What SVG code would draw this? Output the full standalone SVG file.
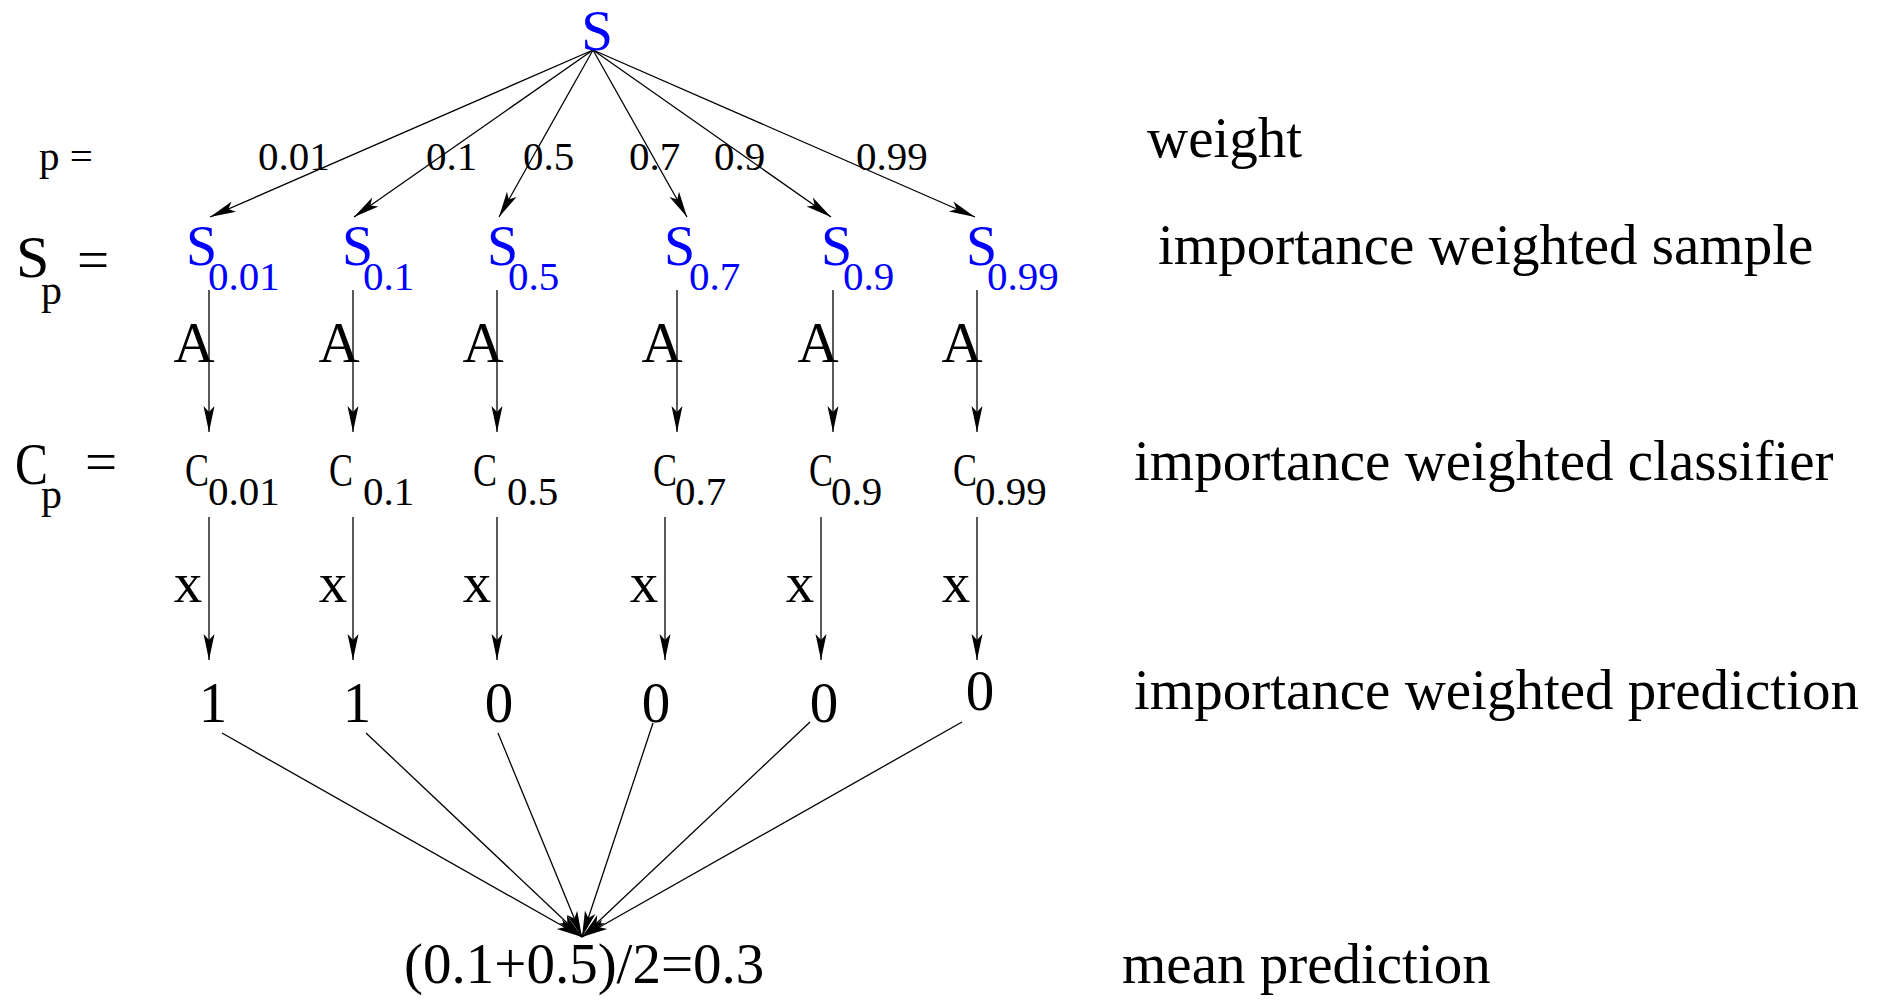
<svg xmlns="http://www.w3.org/2000/svg" width="1880" height="1005" viewBox="0 0 1880 1005">
<defs>
<style>
text{font-family:"Liberation Serif","Times New Roman",serif;fill:#000}
.b{fill:#0000ff}
.big{font-size:57px}
.sm{font-size:41px}
.mid{text-anchor:middle}
.ln{stroke:#000;stroke-width:1.3;fill:none;marker-end:url(#ah)}
</style>
<marker id="ah" markerUnits="userSpaceOnUse" markerWidth="30" markerHeight="14" refX="26" refY="7" orient="auto" overflow="visible"><path d="M26,7 L0,1.5 L6,7 L0,12.5 Z" fill="#000"/></marker>
</defs>
<rect width="1880" height="1005" fill="#fff"/>

<g id="connectors">
<line class="ln" x1="593" y1="50" x2="210" y2="217"/>
<line class="ln" x1="593" y1="50" x2="354" y2="217"/>
<line class="ln" x1="593" y1="50" x2="499" y2="217"/>
<line class="ln" x1="593" y1="50" x2="687" y2="217"/>
<line class="ln" x1="593" y1="50" x2="831" y2="217"/>
<line class="ln" x1="593" y1="50" x2="975" y2="217"/>
<line class="ln" x1="209" y1="290" x2="209" y2="432"/>
<line class="ln" x1="353" y1="290" x2="353" y2="432"/>
<line class="ln" x1="497" y1="290" x2="497" y2="432"/>
<line class="ln" x1="677" y1="290" x2="677" y2="432"/>
<line class="ln" x1="833" y1="290" x2="833" y2="432"/>
<line class="ln" x1="977" y1="290" x2="977" y2="432"/>
<line class="ln" x1="209" y1="517" x2="209" y2="660"/>
<line class="ln" x1="353" y1="517" x2="353" y2="660"/>
<line class="ln" x1="497" y1="517" x2="497" y2="660"/>
<line class="ln" x1="665" y1="517" x2="665" y2="660"/>
<line class="ln" x1="821" y1="517" x2="821" y2="660"/>
<line class="ln" x1="977" y1="517" x2="977" y2="660"/>
<line class="ln" x1="222" y1="733" x2="582" y2="937"/>
<line class="ln" x1="366" y1="733" x2="582" y2="937"/>
<line class="ln" x1="498" y1="733" x2="582" y2="937"/>
<line class="ln" x1="653" y1="723" x2="582" y2="937"/>
<line class="ln" x1="810" y1="722" x2="582" y2="937"/>
<line class="ln" x1="962" y1="722" x2="582" y2="937"/>
</g>

<g id="edge-labels">
<text class="sm" x="39" y="170">p =</text>
<text class="sm" x="258" y="170">0.01</text>
<text class="sm" x="426" y="170">0.1</text>
<text class="sm" x="523" y="170">0.5</text>
<text class="sm" x="629" y="170">0.7</text>
<text class="sm" x="714" y="170">0.9</text>
<text class="sm" x="856" y="170">0.99</text>
<text class="big mid" x="194" y="362">A</text>
<text class="big mid" x="339" y="362">A</text>
<text class="big mid" x="483" y="362">A</text>
<text class="big mid" x="662" y="362">A</text>
<text class="big mid" x="818" y="362">A</text>
<text class="big mid" x="962" y="362">A</text>
<text class="big mid" x="188" y="602">x</text>
<text class="big mid" x="333" y="602">x</text>
<text class="big mid" x="477" y="602">x</text>
<text class="big mid" x="644" y="602">x</text>
<text class="big mid" x="800" y="602">x</text>
<text class="big mid" x="956" y="602">x</text>
</g>

<g id="row-labels">
<text style="font-size:60px" x="16" y="277">S</text>
<text style="font-size:42px" x="41" y="304">p</text>
<text style="font-size:57px" x="77" y="279">=</text>
<text style="font-size:60px" x="15" y="484" textLength="33" lengthAdjust="spacingAndGlyphs">C</text>
<text style="font-size:42px" x="41" y="508">p</text>
<text style="font-size:57px" x="85" y="481">=</text>
</g>

<g id="node-S">
<text class="big b mid" x="597" y="50">S</text>
</g>

<g id="node-S001"><text class="b" style="font-size:56px" x="186" y="265">S</text><text class="sm b" x="208" y="290">0.01</text></g>
<g id="node-S01"><text class="b" style="font-size:56px" x="342" y="265">S</text><text class="sm b" x="363" y="290">0.1</text></g>
<g id="node-S05"><text class="b" style="font-size:56px" x="487" y="265">S</text><text class="sm b" x="508" y="290">0.5</text></g>
<g id="node-S07"><text class="b" style="font-size:56px" x="664" y="265">S</text><text class="sm b" x="689" y="290">0.7</text></g>
<g id="node-S09"><text class="b" style="font-size:56px" x="821" y="265">S</text><text class="sm b" x="843" y="290">0.9</text></g>
<g id="node-S099"><text class="b" style="font-size:56px" x="966" y="265">S</text><text class="sm b" x="987" y="290">0.99</text></g>

<g id="node-C001"><text style="font-size:47px" x="185" y="486" textLength="24" lengthAdjust="spacingAndGlyphs">C</text><text class="sm" x="208" y="505">0.01</text></g>
<g id="node-C01"><text style="font-size:47px" x="329" y="486" textLength="24" lengthAdjust="spacingAndGlyphs">C</text><text class="sm" x="363" y="505">0.1</text></g>
<g id="node-C05"><text style="font-size:47px" x="473" y="486" textLength="24" lengthAdjust="spacingAndGlyphs">C</text><text class="sm" x="507" y="505">0.5</text></g>
<g id="node-C07"><text style="font-size:47px" x="653" y="486" textLength="24" lengthAdjust="spacingAndGlyphs">C</text><text class="sm" x="675" y="505">0.7</text></g>
<g id="node-C09"><text style="font-size:47px" x="809" y="486" textLength="24" lengthAdjust="spacingAndGlyphs">C</text><text class="sm" x="831" y="505">0.9</text></g>
<g id="node-C099"><text style="font-size:47px" x="953" y="486" textLength="24" lengthAdjust="spacingAndGlyphs">C</text><text class="sm" x="975" y="505">0.99</text></g>

<g id="node-P1"><text class="big mid" x="213" y="722">1</text></g>
<g id="node-P2"><text class="big mid" x="357" y="722">1</text></g>
<g id="node-P3"><text class="big mid" x="499" y="722">0</text></g>
<g id="node-P4"><text class="big mid" x="656" y="722">0</text></g>
<g id="node-P5"><text class="big mid" x="824" y="722">0</text></g>
<g id="node-P6"><text class="big mid" x="980" y="710">0</text></g>

<g id="node-mean"><text class="big" x="404" y="983">(0.1+0.5)/2=0.3</text></g>

<g id="legend">
<text class="big" x="1147" y="157">weight</text>
<text class="big" x="1158" y="264">importance weighted sample</text>
<text class="big" x="1134" y="480">importance weighted classifier</text>
<text class="big" x="1134" y="709">importance weighted prediction</text>
<text class="big" x="1122" y="983">mean prediction</text>
</g>
</svg>
